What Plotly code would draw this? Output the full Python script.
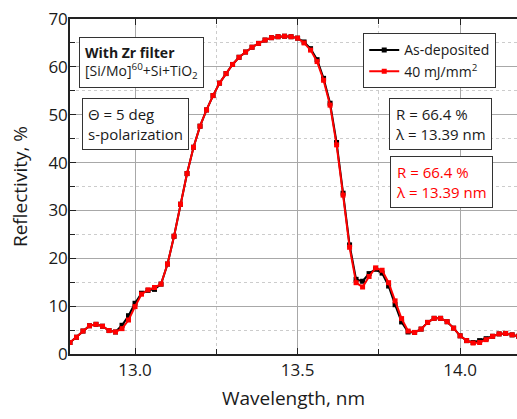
import plotly.graph_objects as go

wavelength = [round(12.80 + 0.02 * i, 2) for i in range(70)]

r_40mj = [2.4, 3.5, 4.8, 5.9, 6.2, 5.8, 4.9, 4.6, 5.3, 7.1,
          9.9, 12.5, 13.4, 13.9, 14.6, 18.8, 24.6, 31.3, 37.7, 43.2,
          47.6, 51.0, 54.0, 56.6, 58.6, 60.5, 62.0, 63.1, 64.1, 64.9,
          65.6, 66.1, 66.3, 66.4, 66.3, 66.0, 65.0, 63.5, 61.1, 57.2,
          52.0, 43.7, 33.2, 22.3, 14.9, 14.0, 16.2, 18.0, 17.5, 14.9,
          11.1, 7.4, 4.8, 4.5, 5.2, 6.6, 7.45, 7.45, 6.75, 5.4,
          3.8, 2.8, 2.3, 2.4, 3.0, 3.7, 4.2, 4.3, 4.0, 3.7]

r_asdep = [2.4, 3.5, 4.8, 5.9, 6.2, 5.8, 4.9, 4.6, 6.0, 8.0,
           10.6, 12.7, 13.3, 13.5, 14.6, 18.8, 24.6, 31.3, 37.7, 43.2,
           47.6, 51.0, 54.0, 56.6, 58.6, 60.5, 62.0, 63.1, 64.1, 64.9,
           65.6, 66.1, 66.3, 66.4, 66.3, 66.0, 65.2, 63.8, 61.5, 57.6,
           52.4, 44.2, 33.6, 22.8, 15.6, 15.2, 16.8, 17.7, 16.9, 14.2,
           10.3, 6.7, 4.6, 4.5, 5.2, 6.6, 7.45, 7.45, 6.75, 5.4,
           3.8, 2.8, 2.4, 2.8, 3.2, 3.7, 4.2, 4.3, 4.0, 3.7]

x_ticks = [13.0, 13.5, 14.0]
x_ticktext = ["13.0", "13.5", "14.0"]
y_ticks = [0, 10, 20, 30, 40, 50, 60, 70]

FONT = "Open Sans"

fig = go.Figure()
fig.add_trace(go.Scatter(
    x=wavelength, y=r_asdep, name="As-deposited", mode="lines+markers",
    line=dict(color="black", width=2),
    marker=dict(symbol="square", size=5, color="black"),
))
fig.add_trace(go.Scatter(
    x=wavelength, y=r_40mj, name="40 mJ/mm<sup>2</sup>", mode="lines+markers",
    line=dict(color="#ff0000", width=2),
    marker=dict(symbol="square", size=5, color="#ff0000"),
))

fig.update_layout(
    width=517, height=419,
    margin=dict(l=70, r=0, t=19, b=65),
    plot_bgcolor="white", paper_bgcolor="white",
    font=dict(family=FONT, size=16, color="#1a1a1a"),
    showlegend=True,
    legend=dict(
        x=0.656, y=0.957, xanchor="left", yanchor="top",
        bordercolor="#333333", borderwidth=1, bgcolor="white",
        font=dict(size=14, family=FONT), tracegroupgap=2,
    ),
    xaxis=dict(
        range=[12.8, 14.175], tickvals=x_ticks, ticktext=x_ticktext,
        showline=True, linecolor="#222222", linewidth=1.5, mirror="ticks",
        ticks="inside", ticklen=6, tickcolor="#222222",
        showgrid=True, gridcolor="#a8a8a8", gridwidth=1,
        zeroline=False,
        minor=dict(dtick=0.25, tick0=12.75, ticks="inside", ticklen=5,
                   tickcolor="#222222", showgrid=True, gridcolor="#cccccc",
                   griddash="dot", gridwidth=1),
        title=dict(text="Wavelength, nm", font=dict(size=19), standoff=12),
        tickfont=dict(size=17),
    ),
    yaxis=dict(
        range=[0, 70], tickvals=y_ticks,
        showline=True, linecolor="#222222", linewidth=1.5, mirror=False,
        ticks="inside", ticklen=6, tickcolor="#222222",
        showgrid=True, gridcolor="#a8a8a8", gridwidth=1,
        zeroline=False, ticklabelstandoff=-3,
        minor=dict(dtick=5, ticks="inside", ticklen=5, tickcolor="#222222",
                   showgrid=True, gridcolor="#cccccc", griddash="dot", gridwidth=1),
        title=dict(text="Reflectivity, %", font=dict(size=19), standoff=16),
        tickfont=dict(size=17),
    ),
)

box = dict(xref="paper", yref="paper", xanchor="left", yanchor="top",
           showarrow=False, align="left", bordercolor="#333333",
           borderwidth=1, borderpad=5, bgcolor="white",
           font=dict(size=14, family=FONT, color="#1a1a1a"))

fig.add_annotation(x=0.0208, y=0.945,
                   text="<b>With Zr filter</b><br>[Si/Mo]<sup>60</sup>+Si+TiO<sub>2</sub>",
                   **box)
box15 = dict(box)
box15["font"] = dict(size=15, family=FONT, color="#1a1a1a")
fig.add_annotation(x=0.0268, y=0.765, text="Θ = 5 deg<br>s-polarization", **box15)
fig.add_annotation(x=0.7136, y=0.7637, text="R = 66.4 %<br>λ = 13.39 nm", **box15)
box_red = dict(box15)
box_red["font"] = dict(size=15, family=FONT, color="#ff0000")
fig.add_annotation(x=0.716, y=0.592, text="R = 66.4 %<br>λ = 13.39 nm", **box_red)

fig.write_html("out.html")
